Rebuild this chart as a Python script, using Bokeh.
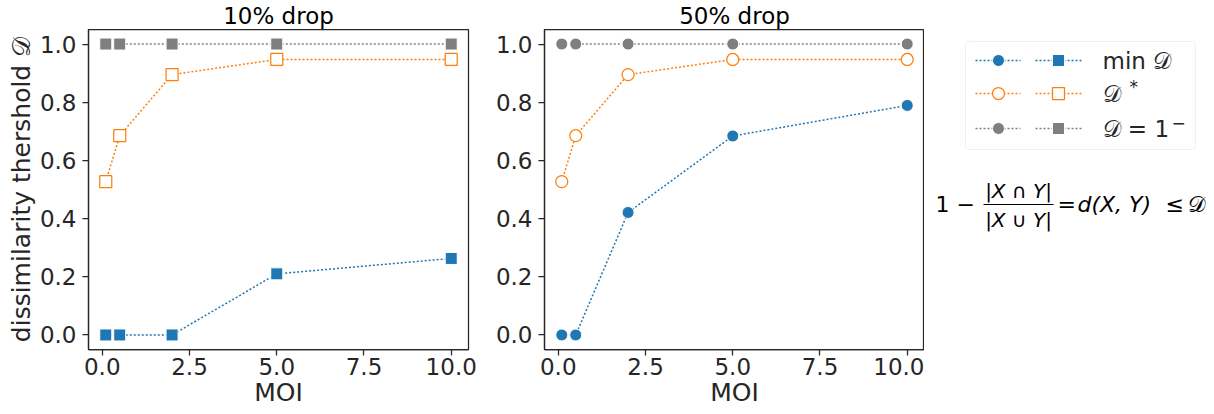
from bokeh.plotting import figure
from bokeh.layouts import row
from bokeh.models import Range1d, FixedTicker, PrintfTickFormatter, ColumnDataSource, BoxAnnotation
from bokeh.embed import file_html
from bokeh.resources import INLINE
from bokeh.core.properties import value

# ---- data ----
moi = [0.1, 0.5, 2, 5, 10]
min_d_10 = [0.0, 0.0, 0.0, 0.21, 0.263]
dstar_10 = [0.527, 0.685, 0.895, 0.947, 0.947]
one_10 = [1.0, 1.0, 1.0, 1.0, 1.0]
min_d_50 = [0.0, 0.0, 0.421, 0.684, 0.789]
dstar_50 = [0.527, 0.685, 0.895, 0.947, 0.947]
one_50 = [1.0, 1.0, 1.0, 1.0, 1.0]
x_ticks = [0, 2.5, 5, 7.5, 10]
y_ticks = [0, 0.2, 0.4, 0.6, 0.8, 1.0]
titles = ["10% drop", "50% drop"]
y_label = "dissimilarity thershold \U0001D49F"
x_label = "MOI"
legend_labels = ["min \U0001D49F", "\U0001D49F", "\U0001D49F = 1"]

BLUE = "#1f77b4"
ORANGE = "#ff7f0e"
GRAY = "#7f7f7f"
INK = "#262626"
FONT = "DejaVu Sans"
FS = "23px"
LFS = "25px"
DASH = "2 2"
MS = 12
TOP, FH, BOTTOM = 28, 320, 66


def make_panel(title, mind, dstar, one, marker, bl, br, ylabel):
    xs = max(moi) - min(moi)
    p = figure(frame_width=380, frame_height=FH,
               min_border_left=bl, min_border_right=br,
               min_border_top=TOP, min_border_bottom=BOTTOM,
               x_range=Range1d(min(moi) - 0.05 * xs, max(moi) + 0.05 * xs),
               y_range=Range1d(-0.05, 1.05),
               output_backend="svg", toolbar_location=None)
    p.grid.visible = False
    p.outline_line_color = INK
    p.outline_line_width = 1.25
    p.outline_line_alpha = 1.0
    p.background_fill_color = "white"
    p.border_fill_color = "white"
    p.title.text = title
    p.title.align = "center"
    p.title.text_font = FONT
    p.title.text_font_size = FS
    p.title.text_font_style = "normal"
    p.title.text_color = "black"
    p.title.standoff = 1
    for ax in (p.xaxis[0], p.yaxis[0]):
        ax.axis_line_color = INK
        ax.axis_line_width = 1.25
        ax.major_tick_line_color = INK
        ax.major_tick_line_width = 1.25
        ax.major_tick_out = 6
        ax.major_tick_in = 0
        ax.minor_tick_out = 0
        ax.minor_tick_in = 0
        ax.major_label_text_font = FONT
        ax.major_label_text_font_size = FS
        ax.major_label_text_color = INK
        ax.axis_label_text_font = FONT
        ax.axis_label_text_font_size = LFS
        ax.axis_label_text_font_style = "normal"
        ax.axis_label_text_color = INK
        ax.formatter = PrintfTickFormatter(format="%.1f")
    p.xaxis[0].major_label_standoff = 2
    p.xaxis[0].axis_label_standoff = 0
    p.yaxis[0].major_label_standoff = 6
    p.yaxis[0].axis_label_standoff = 1
    p.xaxis[0].ticker = FixedTicker(ticks=x_ticks)
    p.yaxis[0].ticker = FixedTicker(ticks=y_ticks)
    p.xaxis[0].axis_label = x_label
    if ylabel:
        p.yaxis[0].axis_label = ylabel

    filled = dict(line_color="white", line_width=1)
    # min D
    p.line(moi, mind, line_color=BLUE, line_width=1.5, line_dash=DASH)
    p.scatter(moi, mind, marker=marker, size=MS, fill_color=BLUE, **filled)
    # D*
    p.line(moi, dstar, line_color=ORANGE, line_width=1.5, line_dash=DASH)
    p.scatter(moi, dstar, marker=marker, size=MS, fill_color="white",
              line_color=ORANGE, line_width=1.25)
    # D = 1-
    p.line(moi, one, line_color=GRAY, line_width=1.5, line_dash=DASH)
    p.scatter(moi, one, marker=marker, size=MS, fill_color=GRAY, **filled)
    return p


p1 = make_panel(titles[0], min_d_10, dstar_10, one_10, "square", 88, 10, y_label)
p2 = make_panel(titles[1], min_d_50, dstar_50, one_50, "circle", 66, 0, None)

# ---- legend + formula panel (pixel coordinates of the page, y down) ----
W = 290
p3 = figure(frame_width=W, frame_height=FH,
            x_range=Range1d(0, W), y_range=Range1d(TOP + FH, TOP),
            min_border_left=0, min_border_right=0,
            min_border_top=TOP, min_border_bottom=BOTTOM,
            output_backend="svg", toolbar_location=None)
p3.axis.visible = False
p3.grid.visible = False
p3.outline_line_color = None
p3.background_fill_color = "white"
p3.border_fill_color = "white"

p3.add_layout(BoxAnnotation(left=41, right=271, top=40, bottom=148,
                            fill_color="white", fill_alpha=1.0, level="underlay",
                            line_color="#cccccc", line_width=1, border_radius=4))

rows_y = [59, 92, 127]
cols = [BLUE, ORANGE, GRAY]
fills = [BLUE, "white", GRAY]
lines = [("white", 1), (ORANGE, 1.25), ("white", 1)]
for yy, c, f, (lc, lw) in zip(rows_y, cols, fills, lines):
    p3.line([51, 96], [yy, yy], line_color=c, line_width=1.5, line_dash=DASH)
    p3.scatter([74], [yy], marker="circle", size=MS, fill_color=f, line_color=lc, line_width=lw)
    p3.line([111, 158], [yy, yy], line_color=c, line_width=1.5, line_dash=DASH)
    p3.scatter([134], [yy], marker="square", size=MS, fill_color=f, line_color=lc, line_width=lw)

p3.text(x=[178, 178, 178], y=rows_y, text=legend_labels, text_font=value(FONT),
        text_font_size=FS, text_baseline="middle", text_align="left", text_color=INK)
p3.text(x=[205, 247], y=[85, 121], text=["*", "\u2212"], text_font=value(FONT),
        text_font_size="17px", text_baseline="middle", text_align="left", text_color=INK)

# formula: 1 - |X n Y| / |X u Y| = d(X, Y) <= D
fsrc = ColumnDataSource(dict(
    x=[11, 133, 153, 241, 263],
    y=[203, 203, 203, 203, 203],
    t=["1 \u2212", "=", "d(X, Y)", "\u2264", "\U0001D49F"],
    st=["normal", "normal", "italic", "normal", "normal"],
))
p3.text(x="x", y="y", text="t", text_font_style="st", source=fsrc,
        text_font=value(FONT), text_font_size="22px", text_baseline="middle",
        text_align="left", text_color="black")
p3.text(x=[94, 94], y=[189, 218], text=["|X \u2229 Y|", "|X \u222A Y|"],
        text_font=value(FONT), text_font_size="20px", text_font_style="italic",
        text_baseline="middle", text_align="center", text_color="black")
p3.line([59, 129], [203, 203], line_color="black", line_width=1.2)

layout = row(p1, p2, p3)
open("out.html", "w").write(file_html(layout, INLINE))
